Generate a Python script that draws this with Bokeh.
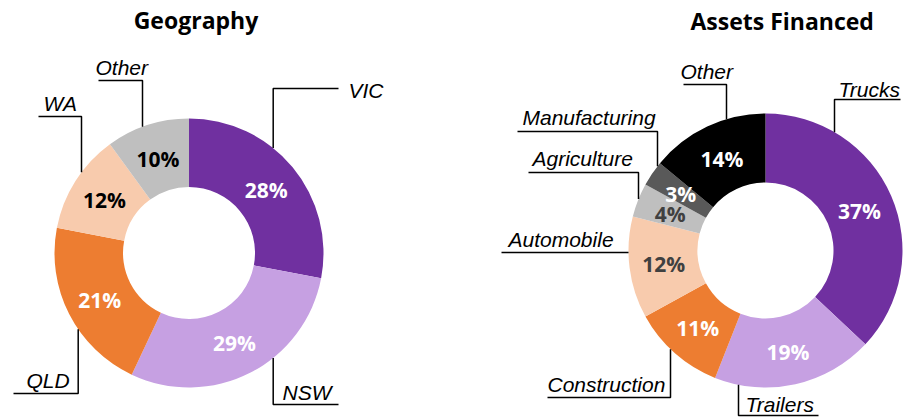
import numpy as np
from bokeh.plotting import figure
from bokeh.models import ColumnDataSource, Range1d
from bokeh.core.properties import value
from bokeh.embed import file_html
from bokeh.resources import INLINE

# ---------------- data ----------------
geo_title = "Geography"
geo_categories = ["VIC", "NSW", "QLD", "WA", "Other"]
geo_values = [28, 29, 21, 12, 10]

asset_title = "Assets Financed"
asset_categories = ["Trucks", "Trailers", "Construction", "Automobile",
                    "Agriculture", "Manufacturing", "Other"]
asset_values = [37, 19, 11, 12, 4, 3, 14]

# ---------------- styles ----------------
PURPLE = "#7030A0"
LILAC = "#C6A0E2"
ORANGE = "#ED7D31"
PEACH = "#F8CBAD"
GREY = "#BFBFBF"
DGREY = "#595959"
BLACK = "#000000"

geo_colors = [PURPLE, LILAC, ORANGE, PEACH, GREY]
geo_label_colors = ["white", "white", "white", "black", "black"]
asset_colors = [PURPLE, LILAC, ORANGE, PEACH, GREY, DGREY, BLACK]
asset_label_colors = ["white", "white", "white", "#404040", "#404040", "white", "white"]

W, H = 910, 418
OFF = 0


def X(px):
    return px - OFF


def Y(py):
    return H + OFF - py


p = figure(width=W, height=H, x_range=Range1d(0, W), y_range=Range1d(0, H),
           output_backend="svg", toolbar_location=None, min_border=0,
           x_axis_location=None, y_axis_location=None)
p.grid.visible = False
p.outline_line_color = None
p.background_fill_color = "white"
p.border_fill_color = "white"


def donut(cx, cy, r_out, r_in, cats, values, colors, label_colors, title, title_x, title_y, leaders):
    vals = np.array(values, dtype=float)
    frac = vals / vals.sum()
    cum = np.concatenate([[0.0], np.cumsum(frac)])
    start = np.pi / 2 - cum[:-1] * 2 * np.pi
    end = np.pi / 2 - cum[1:] * 2 * np.pi
    src = ColumnDataSource(dict(start=start, end=end, color=colors))
    p.annular_wedge(x=X(cx), y=Y(cy), inner_radius=r_in, outer_radius=r_out,
                    start_angle="start", end_angle="end", direction="clock",
                    fill_color="color", line_color=None, source=src)
    mid = (start + end) / 2
    rm = (r_in + r_out) / 2
    lsrc = ColumnDataSource(dict(
        x=X(cx) + rm * np.cos(mid), y=Y(cy) + rm * np.sin(mid) - 1,
        text=[f"{v}%" for v in values], color=label_colors))
    p.text(x="x", y="y", text="text", text_color="color", source=lsrc,
           text_font=value("Open Sans"), text_font_style="bold",
           text_font_size="21px", text_align="center", text_baseline="middle")

    # title
    p.text(x=[X(title_x)], y=[Y(title_y)], text=[title],
           text_font=value("Open Sans"), text_font_style="bold",
           text_font_size="23px", text_align="center",
           text_baseline="middle", text_color="black")

    # leader lines and category labels
    xs, ys, tx, ty, tt = [], [], [], [], []
    for cat in cats:
        L = leaders[cat]
        h0, h1 = L["hx"]
        if L["side"] == "horiz":
            ey = L["ey"]
            dy = ey - cy
            edge_x = cx - np.sqrt(r_out ** 2 - dy ** 2)
            xs.append([X(h0), X(edge_x)])
            ys.append([Y(ey), Y(ey)])
        else:
            vx = L["vx"]
            dx = vx - cx
            dd = np.sqrt(max(r_out ** 2 - dx ** 2, 0.0))
            edge_y = cy - dd if L["side"] == "top" else cy + dd
            ey = L["ey"]
            if abs(h0 - vx) < 0.5:
                xs.append([X(vx), X(vx), X(h1)])
            else:
                xs.append([X(vx), X(vx), X(h0)])
            ys.append([Y(edge_y), Y(ey), Y(ey)])
        tx.append(X(L["tx"]))
        ty.append(Y(L["ty"]))
        tt.append(cat)
    p.multi_line(xs=xs, ys=ys, line_color="black", line_width=1.5)
    p.text(x=tx, y=ty, text=tt, text_font=value("Liberation Sans"),
           text_font_style="italic", text_font_size="21px",
           text_align="left", text_baseline="middle", text_color="black")


# leader layout: vertical line x, elbow y, horizontal extent, label left x, label cap-middle y
geo_leaders = {
    "VIC": dict(side="top", vx=272.7, ey=88, hx=(272.7, 338), tx=348, ty=89.5),
    "NSW": dict(side="bottom", vx=272.7, ey=404, hx=(272.7, 338), tx=282, ty=391.5),
    "QLD": dict(side="bottom", vx=77.7, ey=393, hx=(13, 77.7), tx=26, ty=379.5),
    "WA": dict(side="top", vx=81, ey=116, hx=(38, 81), tx=43, ty=102.5),
    "Other": dict(side="top", vx=142, ey=80, hx=(98, 142), tx=95, ty=66.5),
}

asset_leaders = {
    "Trucks": dict(side="top", vx=834, ey=99, hx=(834, 900), tx=838, ty=88.5),
    "Trailers": dict(side="bottom", vx=738, ey=415, hx=(738, 818), tx=745, ty=403.5),
    "Construction": dict(side="bottom", vx=670, ey=397, hx=(547, 670), tx=547, ty=383.5),
    "Automobile": dict(side="horiz", ey=252, hx=(501, 628), tx=508, ty=238.5),
    "Agriculture": dict(side="top", vx=638, ey=172, hx=(528, 638), tx=532, ty=157.5),
    "Manufacturing": dict(side="top", vx=657, ey=131, hx=(517, 657), tx=522, ty=116.5),
    "Other": dict(side="top", vx=726, ey=84, hx=(683, 726), tx=680, ty=70.5),
}

donut(188.5, 252.5, 134.5, 66, geo_categories, geo_values, geo_colors,
      geo_label_colors, geo_title, 195.5, 19.5, geo_leaders)
donut(765, 250, 137, 68, asset_categories, asset_values, asset_colors,
      asset_label_colors, asset_title, 781.7, 20, asset_leaders)

open("out.html", "w").write(file_html(p, INLINE))
